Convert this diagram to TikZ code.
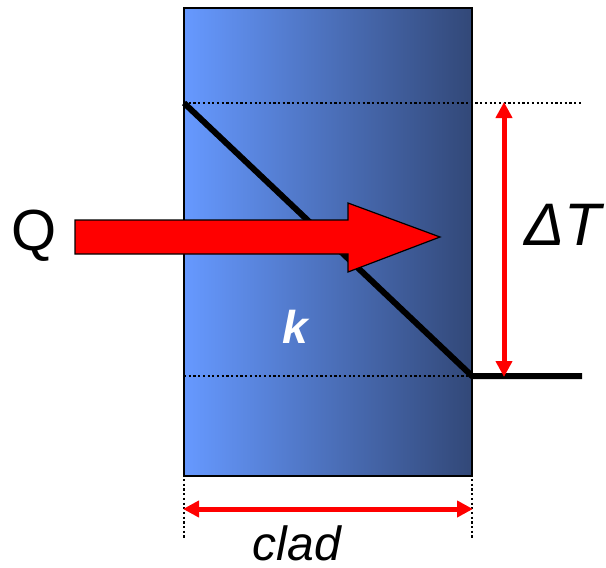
\documentclass[tikz,border=0pt]{standalone}
\usepackage{fontspec}
\setmainfont{Liberation Sans}
\usetikzlibrary{arrows.meta}
\definecolor{cladleft}{RGB}{102,153,255}
\definecolor{cladright}{RGB}{50,72,120}
\definecolor{heatred}{RGB}{255,0,0}
\tikzset{
  guide/.style={black, line width=2.2pt, dash pattern=on 2.2pt off 2.5pt},
  profile/.style={black, line width=6pt},
  dimarrow/.style={heatred, line width=5pt, {Triangle[length=16pt,width=16pt]}-{Triangle[length=16pt,width=16pt]}, shorten <=-1pt, shorten >=-1pt},
  lbl/.style={inner sep=0pt, font=\itshape}
}
\begin{document}
\begin{tikzpicture}[x=1pt,y=-1pt]
\useasboundingbox (0,0) rectangle (606,568);
% clad slab
\shade[left color=cladleft, right color=cladright] (184,8) rectangle (472,476);
\draw[black, line width=2pt] (184,8) rectangle (472,476);
% coordinates
\coordinate (tl) at (184,103);
\coordinate (tr) at (582,103);
\coordinate (bl) at (184,376);
\coordinate (br) at (472,376);
\coordinate (be) at (582,376);
\coordinate (dtop) at (504,103);
\coordinate (dbot) at (504,376);
\coordinate (cl) at (184,509);
\coordinate (cr) at (472,509);
% guides
\draw[guide] (tl) -- (tr);
\draw[guide] (bl) -- (br);
\draw[guide] (184,479) -- (184,538);
\draw[guide] (472,479) -- (472,538);
% temperature profile
\draw[profile, line cap=butt] (tl) -- (br) -- (be);
% heat arrow
\draw[fill=heatred, draw=black, line width=1.2pt]
  (75,220) -- (348,220) -- (348,203) -- (440,237) -- (348,272) -- (348,254) -- (75,254) -- cycle;
% dimension arrows
\draw[dimarrow] (dtop) -- (dbot);
\draw[dimarrow] (cl) -- (cr);
% labels
\node[inner sep=0pt, font=\fontsize{58}{58}\selectfont] (q) at (34,236) {Q};
\node[lbl, font=\fontsize{60}{60}\selectfont\itshape] (dt) at (563,225) {ΔT};
\node[lbl, font=\fontsize{46}{46}\selectfont\bfseries\itshape, text=white] (k) at (295,327) {k};
\node[lbl, font=\fontsize{48}{48}\selectfont\itshape] (clad) at (297,543) {clad};
\end{tikzpicture}
\end{document}
